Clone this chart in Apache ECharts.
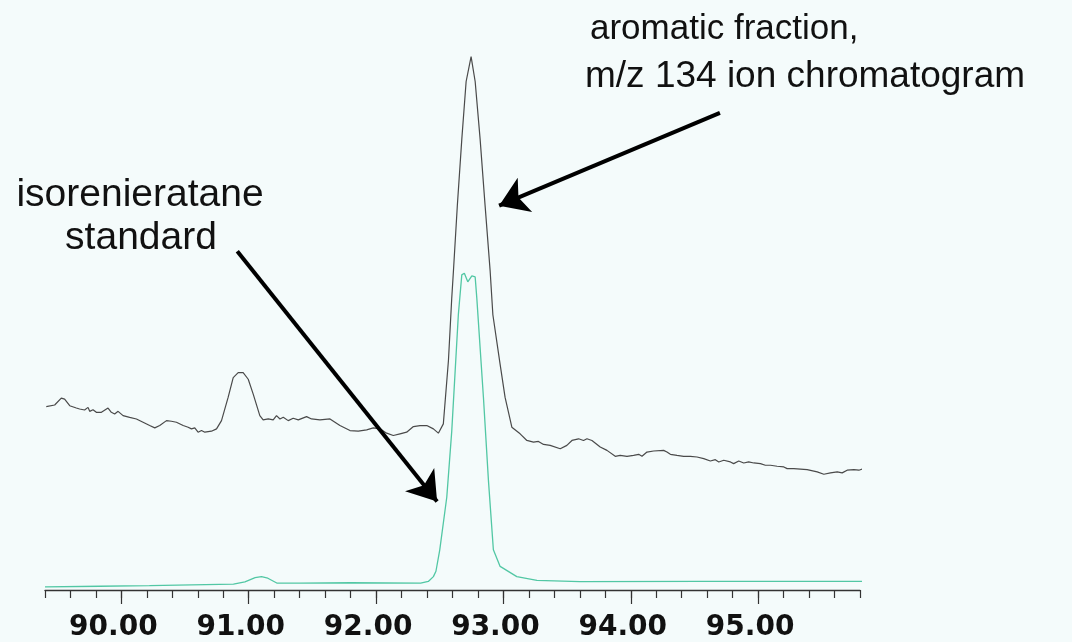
<!DOCTYPE html>
<html>
<head>
<meta charset="utf-8">
<script src="https://cdn.jsdelivr.net/npm/echarts@6.0.0/dist/echarts.min.js"></script>
<style>
html, body { margin: 0; padding: 0; background: #f4fbfb; }
#myDiv { width: 1072px; height: 642px; }
</style>
</head>
<body>
<div id="myDiv"></div>
<script>
// retention time (min) and relative abundance
const ionX = [89.410, 89.476, 89.528, 89.554, 89.594, 89.646, 89.672, 89.711, 89.738, 89.751, 89.777, 89.803, 89.843,
  89.895, 89.921, 89.947, 89.974, 90.013, 90.065, 90.118, 90.170, 90.222, 90.262, 90.301, 90.354, 90.393, 90.432,
  90.485, 90.524, 90.550, 90.576, 90.602, 90.629, 90.655, 90.707, 90.747, 90.786, 90.838, 90.878, 90.917, 90.956,
  90.996, 91.035, 91.087, 91.113, 91.153, 91.192, 91.218, 91.245, 91.271, 91.310, 91.349, 91.389, 91.454, 91.493,
  91.559, 91.638, 91.716, 91.795, 91.860, 91.926, 91.978, 92.031, 92.083, 92.135, 92.188, 92.240, 92.293, 92.345,
  92.398, 92.450, 92.489, 92.528, 92.568, 92.594, 92.607, 92.638, 92.673, 92.707, 92.746, 92.778, 92.817, 92.856,
  92.896, 92.917, 92.974, 93.013, 93.066, 93.131, 93.184, 93.236, 93.275, 93.315, 93.367, 93.446, 93.498, 93.538,
  93.590, 93.629, 93.656, 93.695, 93.760, 93.813, 93.878, 93.917, 93.970, 94.022, 94.062, 94.088, 94.127, 94.179,
  94.258, 94.284, 94.311, 94.363, 94.415, 94.468, 94.520, 94.573, 94.625, 94.664, 94.691, 94.730, 94.782, 94.808,
  94.848, 94.887, 94.926, 94.966, 95.018, 95.057, 95.097, 95.149, 95.202, 95.228, 95.280, 95.385, 95.464, 95.516,
  95.568, 95.621, 95.660, 95.699, 95.752, 95.791, 95.830, 95.857];
const ionY = [34.20, 34.51, 35.80, 35.62, 34.38, 33.95, 33.77, 33.58, 34.07, 33.33, 33.64, 33.15, 33.15,
  33.95, 33.15, 32.84, 33.33, 32.53, 32.22, 31.91, 31.30, 30.68, 30.25, 30.68, 31.60, 31.48, 31.30,
  30.68, 30.37, 30.06, 30.25, 29.44, 29.75, 29.44, 29.63, 30.06, 31.60, 35.93, 39.63, 40.56, 40.56,
  39.32, 36.54, 32.53, 31.73, 31.91, 31.73, 32.53, 31.91, 32.22, 31.60, 32.04, 31.73, 32.35, 31.91,
  31.73, 31.91, 30.68, 29.75, 29.63, 29.88, 30.25, 30.06, 29.26, 28.83, 29.14, 29.44, 30.49, 30.68,
  30.68, 30.06, 29.26, 30.99, 42.78, 54.44, 59.39, 71.72, 84.07, 94.87, 99.50, 94.87, 84.07, 71.72,
  59.39, 51.35, 42.09, 35.93, 30.37, 29.14, 27.90, 27.59, 27.72, 27.16, 26.98, 26.36, 26.98, 27.90,
  28.21, 27.90, 28.21, 27.90, 26.67, 26.05, 24.94, 25.12, 24.94, 25.12, 25.31, 24.94, 25.74, 25.93,
  26.05, 25.74, 25.31, 25.12, 24.94, 24.94, 24.81, 24.51, 24.07, 24.32, 23.89, 24.20, 23.89, 23.58,
  24.07, 23.70, 23.89, 23.70, 23.58, 23.27, 23.27, 23.09, 22.96, 22.65, 22.65, 22.47, 22.04, 21.60,
  21.85, 22.04, 21.85, 22.35, 22.47, 22.35, 22.65, 22.22];

const stdX = [89.40, 89.83, 90.22, 90.88, 90.97, 91.05, 91.10, 91.15, 91.22, 91.40, 91.80, 92.35, 92.41, 92.45,
  92.47, 92.50, 92.555, 92.594, 92.646, 92.673, 92.693, 92.72, 92.752, 92.778, 92.791, 92.843, 92.882, 92.921,
  92.974, 93.105, 93.263, 93.60, 94.55, 95.83];
const stdY = [0.6, 0.7, 0.8, 1.1, 1.5, 2.3, 2.5, 2.2, 1.3, 1.3, 1.35, 1.3, 1.6, 2.5,
  3.5, 7.5, 17.3, 29.6, 51.4, 58.8, 59.1, 57.5, 58.6, 58.4, 54.4, 35.9, 20.5, 7.5,
  4.4, 2.5, 1.8, 1.55, 1.6, 1.6];

const xTicks = [90, 91, 92, 93, 94, 95];

// arrows: [from, tip] in data coordinates
const arrowIon = [[94.70, 89.0], [92.966, 71.7]];
const arrowStd = [[90.91, 63.2], [92.479, 16.5]];

let myChart = echarts.init(document.getElementById('myDiv'));

const fontTxt = '"Liberation Sans", Arial, sans-serif';

let option = {
  backgroundColor: '#f4fbfb',
  animation: false,
  grid: { left: 45, right: 212, top: 54, bottom: 48 },
  xAxis: [
    {
      type: 'value', min: 89.4, max: 95.8, interval: 0.2,
      axisLine: { lineStyle: { color: '#333', width: 1.3 } },
      axisTick: { length: 8, lineStyle: { color: '#333', width: 1.2 } },
      axisLabel: { show: false },
      splitLine: { show: false }
    },
    {
      type: 'value', min: 89.4, max: 95.8, position: 'bottom',
      axisLine: { show: false },
      axisTick: { customValues: xTicks, length: 14, lineStyle: { color: '#333', width: 1.2 } },
      axisLabel: {
        customValues: xTicks,
        formatter: function (v) { return v.toFixed(2); },
        color: '#111', fontSize: 28, fontWeight: 'bold',
        fontFamily: '"DejaVu Sans", sans-serif',
        margin: 24, padding: [0, 16, 0, 0]
      },
      splitLine: { show: false }
    }
  ],
  yAxis: { type: 'value', min: 0, max: 100, show: false },
  graphic: [
    { type: 'text', left: 590, top: 12, style: { text: 'aromatic fraction,', fontSize: 35, fontFamily: fontTxt, fill: '#111' } },
    { type: 'text', left: 585, top: 58, style: { text: 'm/z 134 ion chromatogram', fontSize: 37, fontFamily: fontTxt, fill: '#111' } },
    { type: 'text', x: 140, y: 195, style: { text: 'isorenieratane', fontSize: 39, fontFamily: fontTxt, fill: '#111', align: 'center', verticalAlign: 'middle' } },
    { type: 'text', x: 141, y: 238, style: { text: 'standard', fontSize: 39, fontFamily: fontTxt, fill: '#111', align: 'center', verticalAlign: 'middle' } }
  ],
  series: [
    {
      name: 'm/z 134',
      type: 'line',
      showSymbol: false,
      clip: false,
      data: ionX.map(function (x, i) { return [x, ionY[i]]; }),
      lineStyle: { color: '#4a4a4a', width: 1.2 },
      markLine: {
        silent: true,
        symbol: ['none', 'arrow'],
        symbolSize: 28,
        label: { show: false },
        lineStyle: { color: '#000', width: 4, type: 'solid' },
        itemStyle: { color: '#000' },
        data: [
          [{ coord: arrowIon[0] }, { coord: arrowIon[1] }],
          [{ coord: arrowStd[0] }, { coord: arrowStd[1] }]
        ]
      }
    },
    {
      name: 'standard',
      type: 'line',
      showSymbol: false,
      clip: false,
      data: stdX.map(function (x, i) { return [x, stdY[i]]; }),
      lineStyle: { color: '#52c7a4', width: 1.3 }
    }
  ]
};

option && myChart.setOption(option);
</script>
</body>
</html>
